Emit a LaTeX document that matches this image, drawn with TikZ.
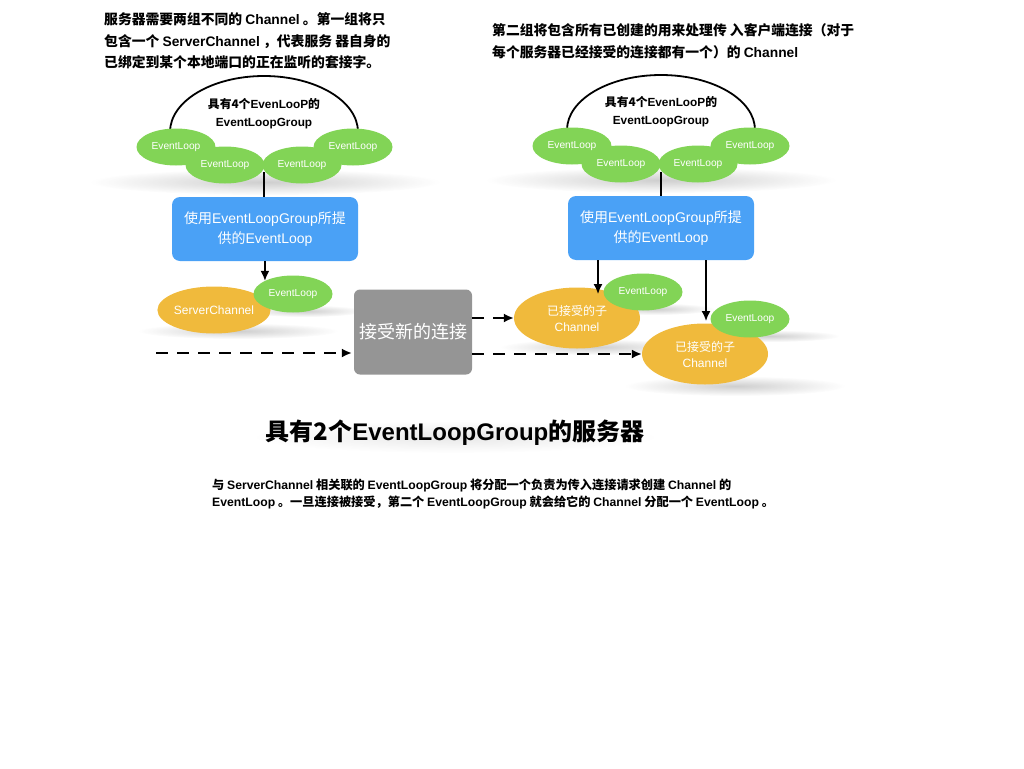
\documentclass[tikz,border=0pt]{standalone}
\usepackage{fontspec}
\setmainfont{Noto Sans CJK SC}
\newfontfamily\en{Liberation Sans}
\usetikzlibrary{arrows.meta,shapes.geometric,fadings}

\definecolor{loopgreen}{HTML}{82D456}
\definecolor{chanorange}{HTML}{F0BA3C}
\definecolor{boxblue}{HTML}{4AA1F6}
\definecolor{boxgray}{HTML}{959595}

\tikzfading[name=softspot, inner color=transparent!15, outer color=transparent!100]

\tikzset{
  loop/.style={ellipse, fill=loopgreen, text=white, inner sep=0pt,
    minimum width=79, minimum height=37, font=\en\fontsize{10.2}{12}\selectfont},
  chan/.style={ellipse, fill=chanorange, text=white, inner sep=0pt, align=center,
    font=\fontsize{12}{16}\selectfont},
  bluebox/.style={rectangle, rounded corners=8, fill=boxblue, text=white,
    minimum width=186, minimum height=64, align=center, inner sep=0pt,
    font=\fontsize{14}{20.5}\selectfont},
  graybox/.style={rectangle, rounded corners=6, fill=boxgray, text=white,
    minimum width=118, minimum height=85, inner sep=0pt,
    font=\fontsize{18}{22}\selectfont},
  note/.style={anchor=base west, inner sep=0pt, font=\bfseries\fontsize{13.8}{16}\selectfont},
  small/.style={anchor=base west, inner sep=0pt, font=\bfseries\fontsize{12.2}{15}\selectfont},
  grouplabel/.style={align=center, inner sep=0pt, font=\bfseries\fontsize{11.8}{18}\selectfont},
  groupline/.style={line width=1.8pt},
  solidarrow/.style={line width=1.5pt, -{Latex[length=10pt,width=9pt]}},
  dasharrow/.style={line width=1.8pt, dash pattern=on 12pt off 9pt,
    -{Latex[length=10pt,width=9pt]}},
  softshadow/.style={fill=black!70, opacity=.32, path fading=softspot},
}

\begin{document}
\begin{tikzpicture}[x=1pt, y=-1pt]
\useasboundingbox (0,0) rectangle (1024,768);

% explanatory notes at the top
\node[note] (n1) at (104,25) {服务器需要两组不同的 {\en Channel} 。第一组将只};
\node[note] (n2) at (104,46) {包含一个 {\en ServerChannel} ，代表服务 器自身的};
\node[note] (n3) at (104,67) {已绑定到某个本地端口的正在监听的套接字。};
\node[note] (n4) at (492,36) {第二组将包含所有已创建的用来处理传 入客户端连接（对于};
\node[note] (n5) at (492,57) {每个服务器已经接受的连接都有一个）的 {\en Channel}};

% soft shadows under the shapes
\fill[softshadow] (265,182) ellipse[x radius=175, y radius=13];
\fill[softshadow] (661,180) ellipse[x radius=175, y radius=13];
\fill[softshadow] (238,331) ellipse[x radius=100, y radius=8];
\fill[softshadow] (305,311) ellipse[x radius=60, y radius=6];
\fill[softshadow] (595,347) ellipse[x radius=95, y radius=8];
\fill[softshadow] (655,309) ellipse[x radius=60, y radius=6];
\fill[softshadow] (735,386) ellipse[x radius=110, y radius=10];
\fill[softshadow] (770,336) ellipse[x radius=70, y radius=6];
\fill[black!60, opacity=.18, path fading=softspot] (455,437) ellipse[x radius=200, y radius=16];

% first EventLoopGroup
\draw[groupline] (170,132) arc[start angle=180, end angle=360, x radius=94, y radius=56];
\node[grouplabel] (lglabel) at (264,114) {具有4个{\en EvenLooP}的\\{\en EventLoopGroup}};
\node[loop] (la) at (176,147) {EventLoop};
\node[loop] (lb) at (225,165) {EventLoop};
\node[loop] (lc) at (302,165) {EventLoop};
\node[loop] (ld) at (353,147) {EventLoop};
\coordinate (lgroup) at (264,172);

% second EventLoopGroup
\draw[groupline] (567,130) arc[start angle=180, end angle=360, x radius=94, y radius=55];
\node[grouplabel] (rglabel) at (661,112) {具有4个{\en EvenLooP}的\\{\en EventLoopGroup}};
\node[loop] (ra) at (572,146) {EventLoop};
\node[loop] (rb) at (621,164) {EventLoop};
\node[loop] (rc) at (698,164) {EventLoop};
\node[loop] (rd) at (750,146) {EventLoop};
\coordinate (rgroup) at (661,172);

% EventLoop providers
\node[bluebox] (lblue) at (265,229) {使用{\en EventLoopGroup}所提\\供的{\en EventLoop}};
\node[bluebox] (rblue) at (661,228) {使用{\en EventLoopGroup}所提\\供的{\en EventLoop}};
\draw[groupline] (lgroup) -- (lblue.north -| lgroup);
\draw[groupline] (rgroup) -- (rblue.north -| rgroup);

% server channel with its EventLoop
\node[chan, minimum width=106, minimum height=47, font=\en\fontsize{12}{16}\selectfont] (server) at (214,310) {ServerChannel};
\node[loop] (sloop) at (293,294) {EventLoop};
\draw[solidarrow] (sloop.north west |- lblue.south) -- (sloop.north west);

% acceptor
\node[graybox] (accept) at (413,332) {接受新的连接};

% accepted child channels with their EventLoops
\node[chan, minimum width=126, minimum height=61] (child1) at (577,318) {已接受的子\\{\en Channel}};
\node[loop] (cloop1) at (643,292) {EventLoop};
\node[chan, minimum width=126, minimum height=61] (child2) at (705,354) {已接受的子\\{\en Channel}};
\node[loop] (cloop2) at (750,319) {EventLoop};
\coordinate (c1in) at (598,294);
\coordinate (c2in) at (706,321);
\draw[solidarrow] (rblue.south -| c1in) -- (c1in);
\draw[solidarrow] (rblue.south -| c2in) -- (c2in);

% incoming and dispatched connections
\coordinate (incoming) at (156,353);
\draw[dasharrow] (incoming) -- ([xshift=-2pt]accept.west |- incoming);
\draw[dasharrow] (accept.east |- child1.west) -- (child1.west);
\draw[dasharrow] (accept.east |- child2.west) -- (child2.west);

% title
\node[inner sep=0pt, font=\bfseries\fontsize{24}{28}\selectfont] (title) at (455,433) {具有2个{\en EventLoopGroup}的服务器};

% caption
\node[small] (c1) at (212,489) {与 {\en ServerChannel} 相关联的 {\en EventLoopGroup} 将分配一个负责为传入连接请求创建 {\en Channel} 的};
\node[small] (c2) at (212,506) {{\en EventLoop} 。一旦连接被接受，第二个 {\en EventLoopGroup} 就会给它的 {\en Channel} 分配一个 {\en EventLoop} 。};
\end{tikzpicture}
\end{document}
